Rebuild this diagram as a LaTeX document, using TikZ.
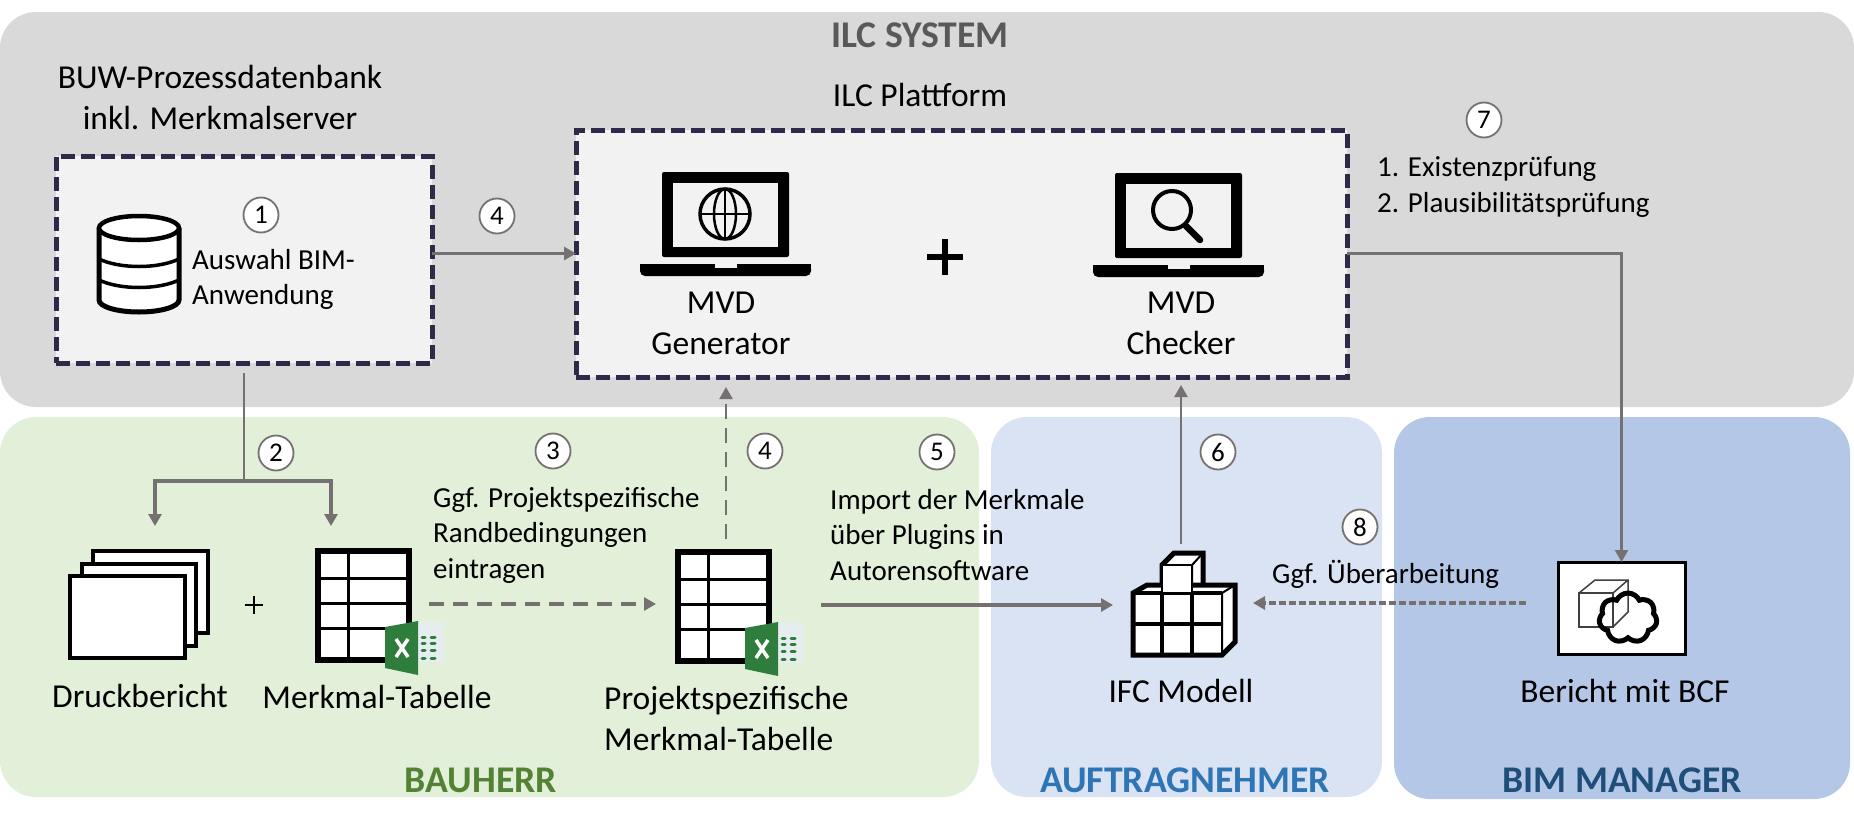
\documentclass[tikz,border=0pt]{standalone}
\usepackage{fontspec}
\setmainfont{Carlito}
\usepackage{xcolor}
\usetikzlibrary{arrows.meta, positioning, shapes.symbols}

\definecolor{systemgrey}{HTML}{D9D9D9}
\definecolor{boxgrey}{HTML}{F2F2F2}
\definecolor{bauherrgreen}{HTML}{E2F0D9}
\definecolor{nehmerblue}{HTML}{DAE3F3}
\definecolor{managerblue}{HTML}{B4C7E7}
\definecolor{dashnavy}{HTML}{2E2B4A}
\definecolor{flowgrey}{HTML}{767171}
\definecolor{titlegrey}{HTML}{595959}
\definecolor{excelgreen}{HTML}{2E7D3C}
\definecolor{excellight}{HTML}{E6EDEE}

\tikzset{
    region/.style={rectangle, rounded corners=36pt, outer sep=0pt, inner sep=0pt},
    toolbox/.style={rectangle, draw=dashnavy, fill=boxgrey, line width=5pt,
        dash pattern=on 14pt off 6pt, outer sep=0pt, inner sep=0pt},
    biglabel/.style={font=\fontsize{33.5}{41}\selectfont, align=center, inner sep=0pt},
    smalllabel/.style={font=\fontsize{29}{35.5}\selectfont, align=left, inner sep=0pt},
    rolelabel/.style={font=\fontsize{37.7}{42}\selectfont\bfseries, inner sep=0pt},
    stepnum/.style={circle, draw=flowgrey, fill=white, line width=1.8pt, minimum size=35pt,
        inner sep=0pt, font=\fontsize{27}{27}\selectfont},
    flow/.style={draw=flowgrey, line width=3.5pt, -{Triangle[length=12pt,width=13pt]}},
    dashflow/.style={flow, dash pattern=on 15pt off 9pt},
    pagesheet/.style={rectangle, draw=black, fill=white, line width=4pt, outer sep=0pt,
        inner sep=0pt},
    laptop/.pic={
        \fill[black, rounded corners=2pt] (0,0) rectangle (127,85);
        \fill[boxgrey] (11,11) rectangle (116,75);
        \fill[black, rounded corners=5pt] (-22,92) -- (149,92) -- (149,104) -- (-22,104) -- cycle;
        \fill[black] (-22,92) rectangle (149,97);
        \fill[boxgrey] (53,92) rectangle (75,96);
    },
    merkmalsheet/.pic={
        \fill[white] (0,0) rectangle (91,109);
        \draw[line width=3pt] (30,0) -- (30,109);
        \foreach \rowy in {27,52,77}
            \draw[line width=3pt] (0,\rowy) -- (91,\rowy);
        \draw[line width=5.5pt] (0,0) rectangle (91,109);
        % excel logo
        \fill[excellight] (100,71) rectangle (126,111);
        \fill[excelgreen] (67,76) -- (100,70) -- (100,124) -- (67,117) -- cycle;
        \draw[white, line width=3.5pt] (78,88) -- (90,106);
        \draw[white, line width=3.5pt] (90,88) -- (78,106);
        \foreach \rowy in {86,92,99,107} {
            \draw[excelgreen, line width=3pt, line cap=round] (104,\rowy) -- (107,\rowy);
            \draw[excelgreen, line width=3pt, line cap=round] (113,\rowy) -- (117,\rowy);
        }
    }
}

\begin{document}
\begin{tikzpicture}[x=1pt, y=-1pt]
    \useasboundingbox (0,0) rectangle (1854,825);

    % coloured regions
    \node[region, fill=systemgrey, minimum width=1854pt, minimum height=395pt] (ilcsystem) at (927,209.5) {};
    \node[region, fill=bauherrgreen, minimum width=979pt, minimum height=380pt] (bauherr) at (489.5,607) {};
    \node[region, fill=nehmerblue, minimum width=391pt, minimum height=380pt] (nehmer) at (1186.5,607) {};
    \node[region, fill=managerblue, minimum width=456pt, minimum height=382pt] (manager) at (1622,608) {};

    \node[rolelabel, text=titlegrey] (systemtitle) at (920,35) {ILC SYSTEM};
    \node[rolelabel] (bauherrtitle) at (481,780) {\textcolor[HTML]{548235}{BAUHERR}};
    \node[rolelabel] (nehmertitle) at (1185,780) {\textcolor[HTML]{2E75B6}{AUFTRAGNEHMER}};
    \node[rolelabel] (managertitle) at (1622,780) {\textcolor[HTML]{1F4E79}{BIM MANAGER}};

    % dashed boxes
    \node[toolbox, minimum width=376pt, minimum height=207pt] (datenbank) at (244,259.5) {};
    \node[toolbox, minimum width=771pt, minimum height=247pt] (plattform) at (961.5,253.5) {};

    \node[biglabel] (buwlabel) at (220,97) {BUW-Prozessdatenbank\\inkl. Merkmalserver};
    \node[biglabel] (plattformlabel) at (920,95) {ILC Plattform};
    \node[smalllabel, anchor=west] (auswahl) at (192,279.5) {Auswahl BIM-\\Anwendung};
    \node[biglabel] (generator) at (721,323) {MVD\\Generator};
    \node[biglabel] (checker) at (1181,323) {MVD\\Checker};
    \node[smalllabel, anchor=west] (pruefung) at (1377,187) {1. Existenzprüfung\\2. Plausibilitätsprüfung};
    \node[smalllabel, anchor=west] (randbed) at (433,535) {Ggf. Projektspezifische\\Randbedingungen\\eintragen};
    \node[smalllabel, anchor=west] (importlabel) at (830,535) {Import der Merkmale\\über Plugins in\\Autorensoftware};
    \node[smalllabel, anchor=west] (ueberarb) at (1272,574) {Ggf. Überarbeitung};
    \node[biglabel] (druck) at (140,696) {Druckbericht};
    \node[biglabel] (merkmal) at (377,697) {Merkmal-Tabelle};
    \node[biglabel, align=left, anchor=west] (projekt) at (604,718) {Projektspezifische\\Merkmal-Tabelle};
    \node[biglabel] (ifclabel) at (1181,691) {IFC Modell};
    \node[biglabel] (berichtlabel) at (1625,691) {Bericht mit BCF};

    % database
    \draw[line width=5pt, fill=white] (99,228) -- (99,300) arc[start angle=180, end angle=0, x radius=40, y radius=12] -- (179,228);
    \draw[line width=4.5pt, fill=white] (139,228) ellipse[x radius=40, y radius=12];
    \draw[line width=3.5pt] (99,259) .. controls (120,269) and (158,269) .. (179,259);
    \draw[line width=3.5pt] (99,280) .. controls (120,290) and (158,290) .. (179,280);

    % laptops
    \pic at (662,172) {laptop};
    \pic at (1115,173) {laptop};
    \draw[line width=3.5pt] (725,214) circle[radius=25];
    \draw[line width=2.5pt] (725,214) ellipse[x radius=11, y radius=25];
    \draw[line width=2.5pt] (725,189) -- (725,239);
    \draw[line width=2.5pt] (700,214) -- (750,214);
    \draw[line width=4pt] (1172,210) circle[radius=19];
    \draw[line width=6.5pt, line cap=round] (1186,226) -- (1200,240);
    \draw[line width=6pt] (927,257) -- (963,257);
    \draw[line width=6pt] (945,239) -- (945,275);

    % druckbericht pages
    \node[pagesheet, minimum width=115pt, minimum height=82pt] (pageback) at (150.5,592) {};
    \node[pagesheet, minimum width=114pt, minimum height=82pt] (pagemid) at (139,605) {};
    \node[pagesheet, minimum width=115pt, minimum height=82pt] (pagefront) at (127.5,617) {};
    \draw[line width=2.5pt] (245,605) -- (263,605);
    \draw[line width=2.5pt] (254,596) -- (254,614);

    % tables
    \pic at (318,551) {merkmalsheet};
    \pic at (678,552) {merkmalsheet};

    % ifc model
    \draw[line width=5pt, fill=white] (1162,593) -- (1162,565) -- (1174,553) -- (1203,553) -- (1203,587) -- (1192,593) -- cycle;
    \draw[line width=2pt] (1162,565) -- (1192,565) -- (1192,593) (1192,565) -- (1203,553);
    \draw[line width=5pt, fill=white] (1133,593) -- (1147,585) -- (1235,585) -- (1235,642) -- (1222,655) -- (1133,655) -- cycle;
    \draw[line width=2pt] (1222,593) -- (1235,585) (1222,593) -- (1222,655);
    \draw[line width=3.5pt] (1133,593) -- (1222,593) (1133,624) -- (1222,624) (1162,593) -- (1162,655) (1192,593) -- (1192,655);
    \draw[line width=2.5pt, fill=white] (1162,565) rectangle (1192,593);

    % bericht
    \node[rectangle, draw=black, fill=white, line width=3pt, minimum width=127pt, minimum height=92pt, outer sep=0pt] (bericht) at (1621.5,608) {};
    \draw[line width=1.5pt, draw=black!75] (1579,593) rectangle (1613,627);
    \draw[line width=1.5pt, draw=black!75] (1579,593) -- (1595,580) -- (1628,580) -- (1628,612) -- (1613,627) (1613,593) -- (1628,580);
    \node[cloud, draw=black, line width=5pt, cloud puffs=7, cloud puff arc=130, aspect=1.15, minimum width=58pt, minimum height=50pt, inner sep=0pt] (bcfcloud) at (1628,618) {};

    % anchors of the connectors
    \coordinate (druckstart) at (244,373);
    \coordinate (branch) at (244,481);
    \coordinate (druckin) at (155,526);
    \coordinate (merkmalin) at (331,526);
    \coordinate (randout) at (429,604);
    \coordinate (randin) at (656,604);
    \coordinate (projektup) at (726,539);
    \coordinate (importout) at (821,605);
    \coordinate (ifcin) at (1113,605);
    \coordinate (ifcup) at (1181,544);
    \coordinate (berichtout) at (1526,603);
    \coordinate (ifcback) at (1253,603);

    % connectors
    \draw[flow] (datenbank.east |- plattform.west) -- (plattform.west);
    \draw[flow, line width=2.5pt] (plattform.east) -| (bericht.north);
    \draw[flow, line width=2.5pt, -] (druckstart) -- (branch);
    \draw[flow] (branch) -| (druckin);
    \draw[flow] (branch) -| (merkmalin);
    \draw[dashflow] (randout) -- (randin);
    \draw[dashflow, line width=2pt, shorten >=10pt] (projektup) -- (plattform.south -| projektup);
    \draw[flow] (importout) -- (ifcin);
    \draw[flow, line width=2.5pt, shorten >=8pt] (ifcup) -- (plattform.south -| ifcup);
    \draw[flow, dash pattern=on 7pt off 3pt] (berichtout) -- (ifcback);

    % step numbers
    \node[stepnum] (stepone) at (261,215) {1};
    \node[stepnum] (stepfourtop) at (497,216) {4};
    \node[stepnum] (stepseven) at (1484,120) {7};
    \node[stepnum] (steptwo) at (276,453) {2};
    \node[stepnum] (stepthree) at (553,451) {3};
    \node[stepnum] (stepfourlow) at (765,451) {4};
    \node[stepnum] (stepfive) at (937,452) {5};
    \node[stepnum] (stepsix) at (1218,452) {6};
    \node[stepnum] (stepeight) at (1360,527) {8};
\end{tikzpicture}
\end{document}
